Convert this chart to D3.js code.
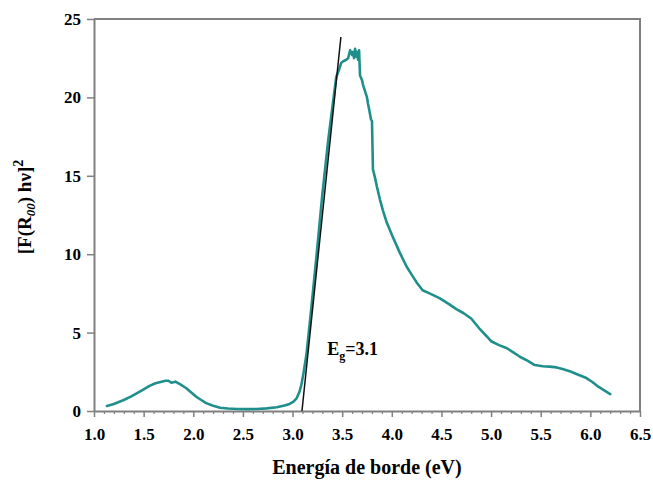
<!DOCTYPE html>
<html>
<head>
<meta charset="utf-8">
<script src="https://cdn.jsdelivr.net/npm/d3@7"></script>
<style>
  html, body { margin: 0; padding: 0; background: #fff; }
  svg { display: block; }
</style>
</head>
<body>
<svg id="chart" width="653" height="484"></svg>
<script>
// ---- data ----
const energy = [1.13,1.20,1.30,1.37,1.43,1.50,1.56,1.62,1.68,1.72,1.75,1.78,1.82,1.87,1.93,1.98,2.03,2.08,2.13,2.20,2.27,2.35,2.44,2.54,2.64,2.74,2.84,2.92,2.97,3.01,3.04,3.07,3.09,3.11,3.14,3.18,3.24,3.30,3.36,3.41,3.44,3.47,3.49,3.51,3.54,3.56,3.58,3.60,3.61,3.62,3.63,3.64,3.65,3.66,3.67,3.68,3.70,3.71,3.73,3.75,3.76,3.77,3.79,3.80,3.81,3.83,3.85,3.88,3.91,3.95,4.01,4.08,4.15,4.20,4.25,4.31,4.38,4.48,4.58,4.65,4.72,4.80,4.89,4.95,5.00,5.08,5.16,5.22,5.29,5.37,5.44,5.52,5.59,5.66,5.72,5.80,5.86,5.96,6.02,6.08,6.14,6.20];
const signal = [0.32,0.45,0.70,0.92,1.13,1.38,1.60,1.77,1.87,1.93,1.93,1.80,1.87,1.70,1.45,1.18,0.91,0.70,0.50,0.33,0.21,0.16,0.13,0.12,0.13,0.17,0.24,0.35,0.45,0.60,0.80,1.23,1.70,2.40,3.60,6.00,9.80,13.80,17.30,19.80,21.30,21.80,22.20,22.30,22.40,22.50,23.00,22.70,22.90,22.50,23.10,22.60,22.90,22.40,23.00,21.40,21.10,20.80,20.40,20.00,19.60,19.30,18.60,18.50,15.40,14.90,14.30,13.50,12.80,12.00,11.10,10.10,9.20,8.70,8.20,7.70,7.50,7.20,6.80,6.50,6.25,5.90,5.20,4.80,4.45,4.20,4.00,3.75,3.46,3.20,2.93,2.85,2.83,2.78,2.68,2.52,2.36,2.10,1.85,1.55,1.32,1.08];
const tangentE = [3.095, 3.487];
const tangentY = [0, 23.85];
const xTicks = [1.0,1.5,2.0,2.5,3.0,3.5,4.0,4.5,5.0,5.5,6.0,6.5];
const yTicks = [0,5,10,15,20,25];
const xDomain = [1.0, 6.5];
const yDomain = [0, 25];

// ---- layout ----
const FONT = "Liberation Serif";
const svg = d3.select("#chart");
const L = 94, R = 640, T = 19, B = 411;
const x = d3.scaleLinear().domain(xDomain).range([L, R]);
const y = d3.scaleLinear().domain(yDomain).range([B, T]);
const axisColor = "#808080";

// frame (top & right)
svg.append("path")
  .attr("d", `M${L},${T}H${R}V${B}`)
  .attr("fill", "none").attr("stroke", axisColor).attr("stroke-width", 2);

// x axis minor ticks
const minorX = d3.range(10, 66).map(v => v / 10).filter(v => Math.abs(v * 2 - Math.round(v * 2)) > 1e-6);
const gxm = svg.append("g").attr("transform", `translate(0,${B})`)
  .call(d3.axisBottom(x).tickValues(minorX).tickSize(3).tickFormat(""));
gxm.select(".domain").remove();
gxm.selectAll("line").attr("stroke", axisColor).attr("stroke-width", 1.2);

// x axis
const gx = svg.append("g").attr("transform", `translate(0,${B})`)
  .call(d3.axisBottom(x).tickValues(xTicks).tickSize(6).tickPadding(11).tickSizeOuter(0).tickFormat(d3.format(".1f")));
gx.attr("font-family", FONT).attr("font-size", 17).attr("font-weight", "bold");
gx.select(".domain").attr("stroke", axisColor).attr("stroke-width", 2);
gx.selectAll("line").attr("stroke", axisColor).attr("stroke-width", 1.5);
gx.selectAll("text").attr("fill", "#000");

// y axis
const gy = svg.append("g").attr("transform", `translate(${L},0)`)
  .call(d3.axisLeft(y).tickValues(yTicks).tickSize(7).tickPadding(6).tickSizeOuter(0));
gy.attr("font-family", FONT).attr("font-size", 17).attr("font-weight", "bold");
gy.select(".domain").attr("stroke", axisColor).attr("stroke-width", 2);
gy.selectAll("line").attr("stroke", axisColor).attr("stroke-width", 1.5);
gy.selectAll("text").attr("fill", "#000");

// data curve
const pts = energy.map((e, i) => [e, signal[i]]);
const line = d3.line().x(d => x(d[0])).y(d => y(d[1]));
svg.append("path").datum(pts)
  .attr("d", line)
  .attr("fill", "none").attr("stroke", "#1f8f8c").attr("stroke-width", 2.6)
  .attr("stroke-linejoin", "round").attr("stroke-linecap", "round");

// tangent line
svg.append("path").datum(tangentE.map((e, i) => [e, tangentY[i]]))
  .attr("d", line)
  .attr("fill", "none").attr("stroke", "#111").attr("stroke-width", 1.5);

// annotation
const ann = svg.append("text").attr("x", x(3.35)).attr("y", y(3.6))
  .attr("font-family", FONT).attr("font-weight", "bold").attr("font-size", 18);
ann.append("tspan").text("E");
ann.append("tspan").attr("dy", 5).attr("font-size", 12).text("g");
ann.append("tspan").attr("dy", -5).text("=3.1");

// axis titles
svg.append("text").attr("x", 367).attr("y", 474).attr("text-anchor", "middle")
  .attr("font-family", FONT).attr("font-weight", "bold").attr("font-size", 20)
  .text("Energía de borde (eV)");

const yl = svg.append("text").attr("transform", `translate(31,207) rotate(-90)`)
  .attr("text-anchor", "middle")
  .attr("font-family", FONT).attr("font-weight", "bold").attr("font-size", 19);
yl.append("tspan").text("[F(R");
yl.append("tspan").attr("dy", 4).attr("font-size", 13).attr("font-style", "italic").text("00");
yl.append("tspan").attr("dy", -4).text(") hν]");
yl.append("tspan").attr("dy", -8).attr("font-size", 14).text("2");
</script>
</body>
</html>
